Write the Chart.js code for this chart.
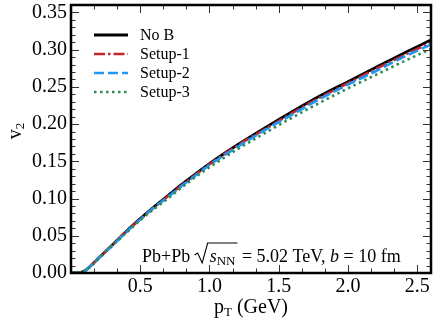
<!DOCTYPE html>
<html>
<head>
<meta charset="utf-8">
<script src="https://cdn.jsdelivr.net/npm/chart.js@4.4.1/dist/chart.umd.min.js"></script>
<style>
html,body{margin:0;padding:0;background:#fff;}
canvas{display:block;}
</style>
</head>
<body>
<canvas id="c" width="436" height="327"></canvas>
<script>
// ---- data ----
const pT     = [0, 0.05, 0.1, 0.15, 0.2, 0.3, 0.4, 0.5, 0.6, 0.7, 0.8, 0.9, 1.0, 1.2, 1.4, 1.6, 1.8, 2.0, 2.2, 2.4, 2.6];
const noB    = [0, 0.0003, 0.003, 0.011, 0.020, 0.038, 0.056, 0.073, 0.089, 0.104, 0.119, 0.133, 0.147, 0.172, 0.195, 0.217, 0.238, 0.257, 0.276, 0.295, 0.313];
const setup1 = [0, 0.0003, 0.003, 0.011, 0.020, 0.038, 0.056, 0.072, 0.088, 0.103, 0.118, 0.132, 0.146, 0.171, 0.193, 0.215, 0.236, 0.255, 0.274, 0.292, 0.310];
const setup2 = [0, 0.0003, 0.003, 0.011, 0.020, 0.037, 0.055, 0.072, 0.088, 0.102, 0.117, 0.131, 0.145, 0.169, 0.192, 0.213, 0.234, 0.253, 0.271, 0.290, 0.307];
const setup3 = [0, 0.0003, 0.003, 0.010, 0.019, 0.037, 0.054, 0.071, 0.086, 0.100, 0.115, 0.129, 0.142, 0.166, 0.188, 0.209, 0.229, 0.248, 0.266, 0.284, 0.301];
const seriesNames = ["No B", "Setup-1", "Setup-2", "Setup-3"];
const xTicks = [0.5, 1.0, 1.5, 2.0, 2.5];
const yTicks = [0.00, 0.05, 0.10, 0.15, 0.20, 0.25, 0.30, 0.35];

const SERIF = '"Liberation Serif", "Times New Roman", serif';

function pts(arr){ return pT.map((x,i)=>({x:x, y:arr[i]})); }

const styles = [
  {color:'#000000', dash:[], width:2.8, order:4},
  {color:'#c0272d', dash:[11,3,2.5,3], width:2.6, order:3},
  {color:'#2196f3', dash:[10,4], width:2.6, order:2},
  {color:'#2e8b57', dash:[2.5,3.5], width:2.6, order:1}
];
const allSeries = [noB, setup1, setup2, setup3];

const datasets = allSeries.map((s,i)=>({
  label: seriesNames[i],
  data: pts(s),
  borderColor: styles[i].color,
  borderDash: styles[i].dash,
  borderWidth: styles[i].width,
  pointRadius: 0,
  fill: false,
  cubicInterpolationMode: 'monotone',
  order: styles[i].order
}));

const decor = {
  id: 'decor',
  afterDatasetsDraw(chart){
    const {ctx, chartArea:a, scales:{x, y}} = chart;
    ctx.save();
    // minor / major ticks, inward on all four sides
    ctx.strokeStyle = '#333';
    ctx.lineWidth = 1;
    const tick = (px1,py1,px2,py2)=>{ctx.beginPath();ctx.moveTo(px1,py1);ctx.lineTo(px2,py2);ctx.stroke();};
    for (let k=0;k<=36;k++){
      const v = k*0.01; const py = Math.round(y.getPixelForValue(v))+0.5;
      if (py < a.top || py > a.bottom) continue;
      const L = (k%5===0)?8:4.5;
      tick(a.left,py,a.left+L,py); tick(a.right,py,a.right-L,py);
    }
    for (let k=0;k<=15;k++){
      const v = k*0.5/3; const px = Math.round(x.getPixelForValue(v))+0.5;
      if (px < a.left || px > a.right) continue;
      const L = (k%3===0)?8:4.5;
      tick(px,a.bottom,px,a.bottom-L); tick(px,a.top,px,a.top+L);
    }
    // frame
    ctx.strokeStyle = '#000';
    ctx.lineWidth = 2.5;
    ctx.strokeRect(a.left, a.top, a.right-a.left, a.bottom-a.top);

    // legend
    ctx.font = '16px ' + SERIF;
    ctx.textBaseline = 'middle';
    ctx.fillStyle = '#000';
    datasets.forEach((d,i)=>{
      const ly = a.top + 30 + i*19;
      ctx.strokeStyle = d.borderColor;
      ctx.lineWidth = d.borderWidth;
      ctx.setLineDash(d.borderDash);
      ctx.beginPath(); ctx.moveTo(a.left+23, ly); ctx.lineTo(a.left+57, ly); ctx.stroke();
      ctx.setLineDash([]);
      ctx.fillText(d.label, a.left+69, ly+1);
    });

    // annotation: Pb+Pb sqrt(s_NN) = 5.02 TeV, b = 10 fm
    const F = 18;
    let tx = a.left + 71;
    const by = a.bottom - 11;
    ctx.textBaseline = 'alphabetic';
    const put = (txt, font) => { ctx.font = font; ctx.fillText(txt, tx, by); tx += ctx.measureText(txt).width; };
    put('Pb+Pb ', F + 'px ' + SERIF);
    // radical sign
    const r0 = tx;
    ctx.font = 'italic ' + F + 'px ' + SERIF;
    const ws = ctx.measureText('s').width;
    ctx.font = Math.round(F*0.72) + 'px ' + SERIF;
    const wn = ctx.measureText('NN').width;
    ctx.strokeStyle = '#000';
    ctx.lineWidth = 1.1;
    ctx.beginPath();
    ctx.moveTo(r0, by-7);
    ctx.lineTo(r0+3, by-9);
    ctx.lineTo(r0+7.5, by+1);
    ctx.lineTo(r0+13, by-F-1);
    ctx.lineTo(r0+15 + ws + wn + 2, by-F-1);
    ctx.stroke();
    tx = r0 + 15;
    put('s', 'italic ' + F + 'px ' + SERIF);
    ctx.font = Math.round(F*0.72) + 'px ' + SERIF;
    ctx.fillText('NN', tx, by+3); tx += wn + 2;
    put(' = 5.02 TeV, ', F + 'px ' + SERIF);
    put('b', 'italic ' + F + 'px ' + SERIF);
    put(' = 10 fm', F + 'px ' + SERIF);

    ctx.restore();
  },
  afterDraw(chart){
    const {ctx, chartArea:a} = chart;
    ctx.save();
    ctx.fillStyle = '#000';
    ctx.textBaseline = 'alphabetic';
    // x title p_T (GeV)
    const cx = (a.left + a.right)/2;
    ctx.font = '20px ' + SERIF;
    const wp = ctx.measureText('p').width;
    ctx.font = '13px ' + SERIF;
    const wT = ctx.measureText('T').width;
    ctx.font = '20px ' + SERIF;
    const wG = ctx.measureText(' (GeV)').width;
    let sx = cx - (wp + wT + wG)/2;
    const base = 313;
    ctx.fillText('p', sx, base); sx += wp;
    ctx.font = '13px ' + SERIF;
    ctx.fillText('T', sx, base+3); sx += wT;
    ctx.font = '20px ' + SERIF;
    ctx.fillText(' (GeV)', sx, base);
    // y title v_2
    ctx.translate(21, 131);
    ctx.rotate(-Math.PI/2);
    ctx.font = '20px ' + SERIF;
    const wv = ctx.measureText('v').width;
    ctx.font = '13px ' + SERIF;
    const w2 = ctx.measureText('2').width;
    let ty = -(wv+w2)/2;
    ctx.font = '20px ' + SERIF;
    ctx.fillText('v', ty, 0); ty += wv;
    ctx.font = '13px ' + SERIF;
    ctx.fillText('2', ty, 3);
    ctx.restore();
  }
};

new Chart(document.getElementById('c'), {
  type: 'line',
  data: { datasets: datasets },
  options: {
    responsive: false,
    animation: false,
    layout: { padding: { top: 5, right: 5, left: 0, bottom: 0 } },
    plugins: { legend: { display: false }, tooltip: { enabled: false } },
    scales: {
      x: {
        type: 'linear',
        min: 0, max: 2.6,
        grid: { display: false, drawTicks: false },
        border: { display: false },
        afterBuildTicks: s => { s.ticks = xTicks.map(v => ({value: v})); },
        afterFit: s => { s.height = 54; s.paddingLeft = 0; s.paddingRight = 0; },
        ticks: {
          padding: 2,
          color: '#000',
          font: { family: SERIF, size: 20 },
          maxRotation: 0,
          callback: v => Number(v).toFixed(1)
        }
      },
      y: {
        type: 'linear',
        min: 0, max: 0.36,
        grid: { display: false, drawTicks: false },
        border: { display: false },
        afterBuildTicks: s => { s.ticks = yTicks.map(v => ({value: v})); },
        afterFit: s => { s.width = 71; s.paddingTop = 0; s.paddingBottom = 0; },
        ticks: {
          padding: 4,
          color: '#000',
          font: { family: SERIF, size: 20 },
          callback: v => Number(v).toFixed(2)
        }
      }
    }
  },
  plugins: [decor]
});
</script>
</body>
</html>
